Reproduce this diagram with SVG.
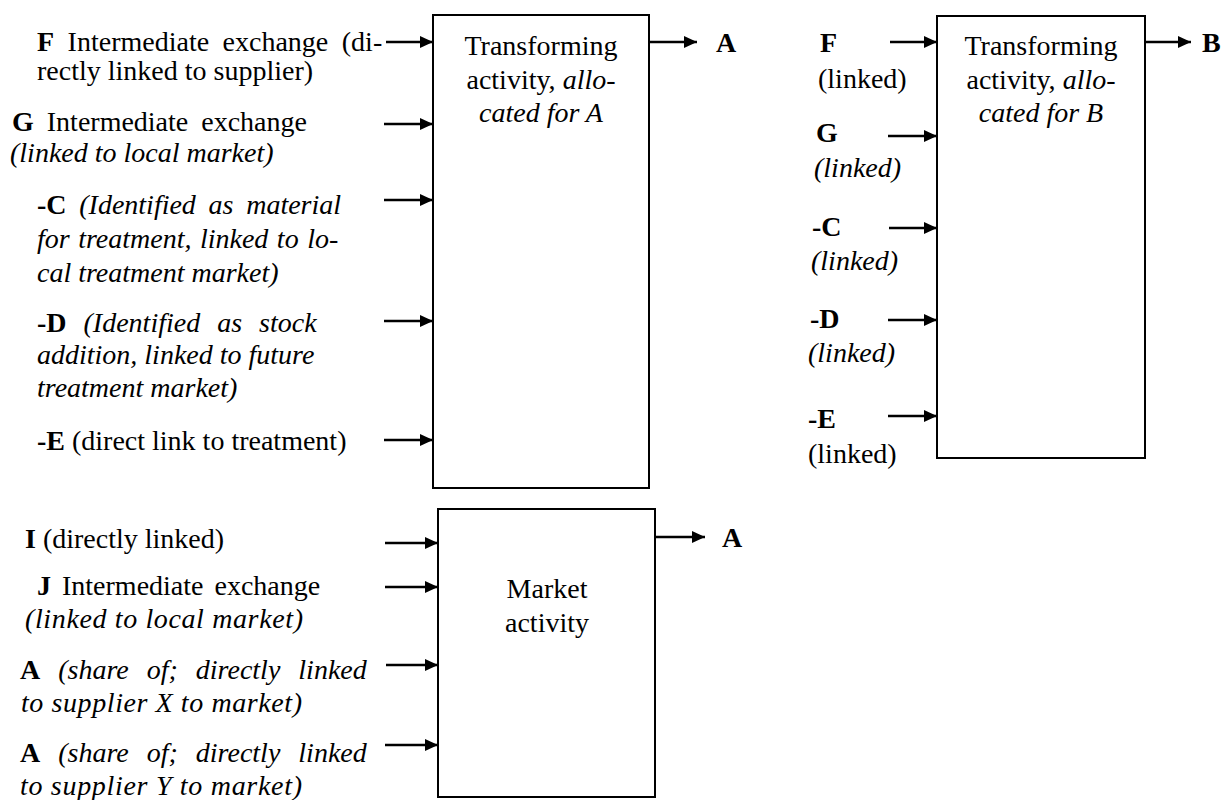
<svg xmlns="http://www.w3.org/2000/svg" width="1222" height="800" viewBox="0 0 1222 800">
<style>
text{font-family:"Liberation Serif","Times New Roman",serif;font-size:28px;fill:#000}
.b{font-weight:bold}
.i{font-style:italic}
.box{fill:#fff;stroke:#000;stroke-width:2}
.c{text-anchor:middle}
.arr{stroke:#000;stroke-width:2.5;fill:none;marker-end:url(#ah)}
</style>
<defs>
<marker id="ah" markerUnits="userSpaceOnUse" markerWidth="14" markerHeight="12" refX="13" refY="6" orient="auto">
<path d="M0,0 L13,6 L0,12 z" fill="#000"/>
</marker>
</defs>
<rect width="1222" height="800" fill="#fff"/>

<g id="connectors">
<line class="arr" x1="386" y1="42" x2="433" y2="42"/>
<line class="arr" x1="384" y1="124" x2="433" y2="124"/>
<line class="arr" x1="384" y1="200" x2="433" y2="200"/>
<line class="arr" x1="384" y1="321" x2="433" y2="321"/>
<line class="arr" x1="384" y1="440" x2="433" y2="440"/>
<line class="arr" x1="650" y1="42" x2="697" y2="42"/>
<line class="arr" x1="890" y1="42" x2="937" y2="42"/>
<line class="arr" x1="888" y1="136" x2="937" y2="136"/>
<line class="arr" x1="889" y1="228" x2="937" y2="228"/>
<line class="arr" x1="888" y1="320" x2="937" y2="320"/>
<line class="arr" x1="888" y1="416" x2="937" y2="416"/>
<line class="arr" x1="1146" y1="42" x2="1191" y2="42"/>
<line class="arr" x1="385" y1="543" x2="438" y2="543"/>
<line class="arr" x1="385" y1="587" x2="438" y2="587"/>
<line class="arr" x1="386" y1="665" x2="438" y2="665"/>
<line class="arr" x1="385" y1="745" x2="438" y2="745"/>
<line class="arr" x1="656" y1="537" x2="705" y2="537"/>
</g>

<g id="transform-A">
<rect class="box" x="433" y="15" width="216" height="473"/>
<text class="c" x="541" y="55">Transforming</text>
<text class="c" x="541" y="89">activity, <tspan class="i">allo-</tspan></text>
<text class="c i" x="541" y="122">cated for A</text>
</g>

<g id="transform-B">
<rect class="box" x="937" y="16" width="208" height="442"/>
<text class="c" x="1041" y="55">Transforming</text>
<text class="c" x="1041" y="89">activity, <tspan class="i">allo-</tspan></text>
<text class="c i" x="1041" y="122">cated for B</text>
</g>

<g id="market">
<rect class="box" x="438" y="509" width="217" height="288"/>
<text class="c" x="547" y="598">Market</text>
<text class="c" x="547" y="632">activity</text>
</g>

<g id="out-A-top"><text class="b" x="716" y="52">A</text></g>
<g id="out-B"><text class="b" x="1202" y="52">B</text></g>
<g id="out-A-bottom"><text class="b" x="722" y="547">A</text></g>

<g id="in-F">
<text x="37" y="51" style="word-spacing:6.5px"><tspan class="b">F</tspan> Intermediate exchange (di-</text>
<text x="37" y="80">rectly linked to supplier)</text>
</g>
<g id="in-G">
<text x="12" y="131" style="word-spacing:6px"><tspan class="b">G</tspan> Intermediate exchange</text>
<text class="i" x="10" y="162">(linked to local market)</text>
</g>
<g id="in-C">
<text x="37" y="214" style="word-spacing:5.7px"><tspan class="b">-C</tspan> <tspan class="i">(Identified as material</tspan></text>
<text class="i" x="37" y="248" style="word-spacing:1.5px">for treatment, linked to lo-</text>
<text class="i" x="37" y="282">cal treatment market)</text>
</g>
<g id="in-D">
<text x="37" y="332" style="word-spacing:10px"><tspan class="b">-D</tspan> <tspan class="i">(Identified as stock</tspan></text>
<text class="i" x="37" y="364">addition, linked to future</text>
<text class="i" x="37" y="397">treatment market)</text>
</g>
<g id="in-E">
<text x="37" y="450"><tspan class="b">-E</tspan> (direct link to treatment)</text>
</g>

<g id="inB-F">
<text class="b" x="820" y="52">F</text>
<text x="818" y="88">(linked)</text>
</g>
<g id="inB-G">
<text class="b" x="816" y="142">G</text>
<text class="i" x="814" y="177">(linked)</text>
</g>
<g id="inB-C">
<text class="b" x="812" y="236">-C</text>
<text class="i" x="811" y="270">(linked)</text>
</g>
<g id="inB-D">
<text class="b" x="810" y="328">-D</text>
<text class="i" x="808" y="362">(linked)</text>
</g>
<g id="inB-E">
<text class="b" x="808" y="428">-E</text>
<text x="808" y="463">(linked)</text>
</g>

<g id="in-I">
<text x="25" y="548"><tspan class="b">I</tspan> (directly linked)</text>
</g>
<g id="in-J">
<text x="37" y="595" style="word-spacing:4px"><tspan class="b">J</tspan> Intermediate exchange</text>
<text class="i" x="25" y="628" textLength="278" lengthAdjust="spacing">(linked to local market)</text>
</g>
<g id="in-AX">
<text x="20" y="679" style="word-spacing:11px"><tspan class="b">A</tspan> <tspan class="i">(share of; directly linked</tspan></text>
<text class="i" x="21" y="712" textLength="281" lengthAdjust="spacing">to supplier X to market)</text>
</g>
<g id="in-AY">
<text x="20" y="762" style="word-spacing:11px"><tspan class="b">A</tspan> <tspan class="i">(share of; directly linked</tspan></text>
<text class="i" x="20" y="795" textLength="282" lengthAdjust="spacing">to supplier Y to market)</text>
</g>
</svg>
